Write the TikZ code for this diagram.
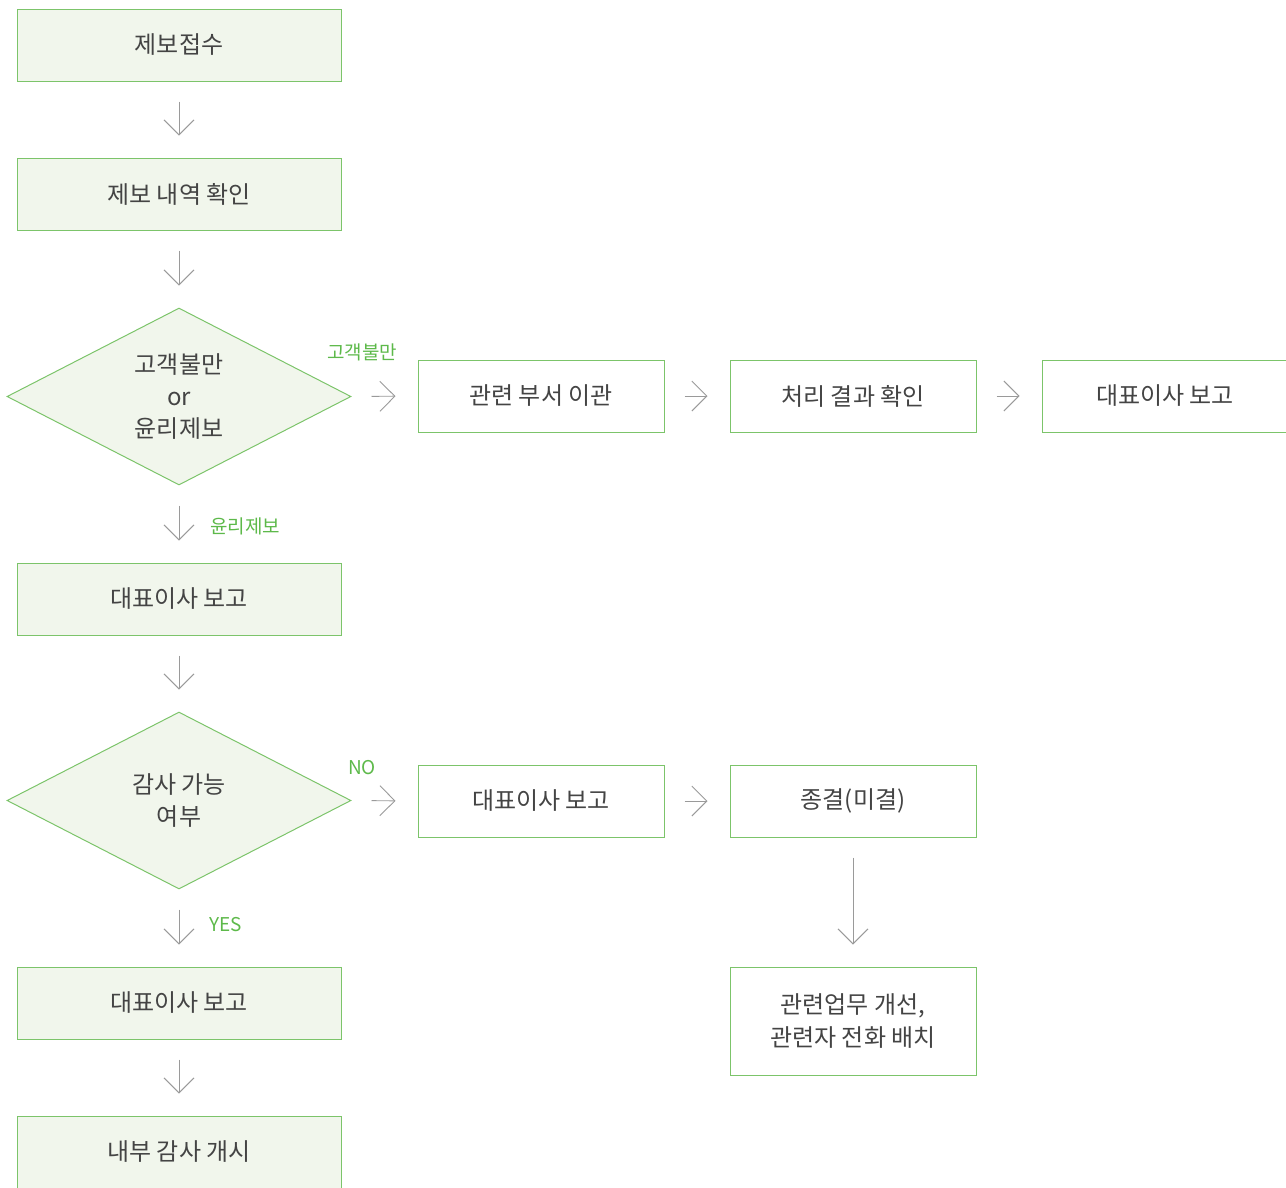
\documentclass[tikz,border=0pt]{standalone}
\usepackage{fontspec}
\setmainfont{Noto Sans CJK KR}
\usetikzlibrary{shapes.geometric,arrows.meta}
\definecolor{boxline}{HTML}{7CC46A}
\definecolor{boxfill}{HTML}{F1F6EC}
\definecolor{lbl}{HTML}{5DB94A}
\definecolor{txt}{HTML}{444444}
\definecolor{arr}{HTML}{9A9A9A}
\begin{document}
\begin{tikzpicture}[x=1pt,y=-1pt,
    b/.style={draw=boxline, line width=1pt, fill=boxfill, minimum width=324pt, minimum height=72pt,
              text=txt, font=\fontsize{24}{33}\selectfont, align=center, inner sep=0pt},
    w/.style={b, fill=white, minimum width=246pt},
    d/.style={diamond, draw=boxline, line width=1pt, fill=boxfill, minimum width=344pt, minimum height=177pt,
              text=txt, font=\fontsize{24}{32}\selectfont, align=center, inner sep=0pt},
    a/.style={draw=arr, line width=0.9pt, -{Straight Barb[length=15pt,width=30pt]}, shorten <=20pt, shorten >=22pt},
    l/.style={text=lbl, font=\fontsize{19}{22}\selectfont, inner sep=0pt}
]
\useasboundingbox (0,0) rectangle (1286,1187);
% left column
\node[b] (s1) at (179,45) {제보접수};
\node[b] (s2) at (179,194) {제보 내역 확인};
\node[d] (q1) at (179,396.5) {고객불만\\or\\윤리제보};
\node[b] (s3) at (179,599) {대표이사 보고};
\node[d] (q2) at (179,800.5) {감사 가능\\여부};
\node[b] (s4) at (179,1003) {대표이사 보고};
\node[b] (s5) at (179,1152) {내부 감사 개시};
% right rows
\node[w] (r1) at (541,396) {관련 부서 이관};
\node[w] (r2) at (853,396) {처리 결과 확인};
\node[w] (r3) at (1165,396) {대표이사 보고};
\node[w] (n1) at (541,801) {대표이사 보고};
\node[w] (n2) at (853,801) {종결(미결)};
\node[w, minimum height=108pt] (n3) at (853,1021) {관련업무 개선,\\관련자 전화 배치};
% arrows
\foreach \p/\q in {s1/s2, s2/q1, q1/s3, s3/q2, q2/s4, s4/s5, n2/n3}
    \draw[a] (\p.south) -- (\q.north);
\foreach \p/\q in {q1/r1, r1/r2, r2/r3, q2/n1, n1/n2}
    \draw[a] (\p.east) -- (\q.west);
% branch labels
\node[l] at (362,352) {고객불만};
\node[l] at (245,526) {윤리제보};
\node[l] at (362,768) {NO};
\node[l] at (226,925) {YES};
\end{tikzpicture}
\end{document}
